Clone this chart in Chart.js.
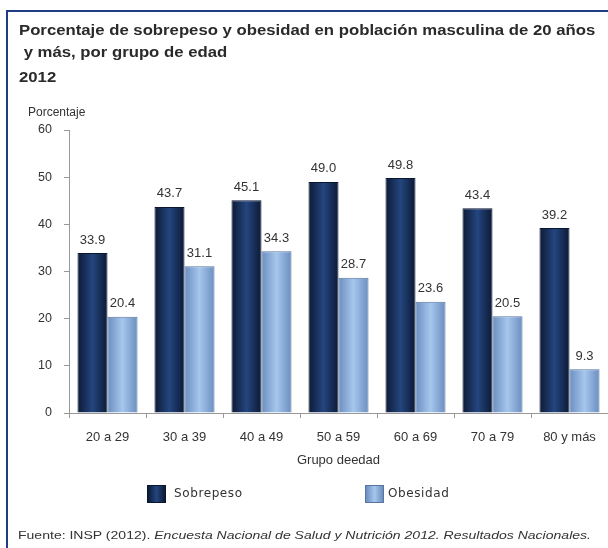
<!DOCTYPE html>
<html>
<head>
<meta charset="utf-8">
<script src="https://cdn.jsdelivr.net/npm/chart.js@4.4.1/dist/chart.umd.min.js"></script>
<style>
  html, body { margin: 0; padding: 0; background: #fff; }
  #wrap { position: relative; width: 608px; height: 548px; overflow: hidden; font-family: "Liberation Sans", Arial, sans-serif; color: #222; }
  #frame { position: absolute; left: 6px; top: 10px; width: 700px; height: 600px; border-left: 2px solid #1f3c85; border-top: 2px solid #1f3c85; }
  #chart { position: absolute; left: 0; top: 0; }
  .txt { position: absolute; white-space: nowrap; transform-origin: left center; }
  .title { font-weight: bold; font-size: 15px; color: #2a2a2a; transform: scaleX(1.115); }
  .legend { font-family: "DejaVu Sans", sans-serif; font-size: 12px; letter-spacing: 0.6px; color: #333; }
  .swatch { position: absolute; width: 17px; height: 16px; }
  #footer { font-size: 11.5px; color: #333; transform: scaleX(1.22); }
</style>
</head>
<body>
<div id="wrap">
  <canvas id="chart" width="608" height="548"></canvas>
  <div id="frame"></div>
  <div class="txt title" style="left:19px; top:21px;">Porcentaje de sobrepeso y obesidad en población masculina de 20 años</div>
  <div class="txt title" style="left:19px; top:43px;">&nbsp;y más, por grupo de edad</div>
  <div class="txt title" style="left:19px; top:68px;">2012</div>
  <div class="txt" style="left:28px; top:105px; font-size:12px; color:#333;">Porcentaje</div>
  <div class="swatch" style="left:147px; top:485px; background:linear-gradient(to right,#0c1a36,#24457e 50%,#0c1a36); border:1px solid #0a1630;"></div>
  <div class="txt legend" style="left:174px; top:486px;">Sobrepeso</div>
  <div class="swatch" style="left:365px; top:485px; background:linear-gradient(to right,#6a8ec0,#a6c6ec 50%,#6a8ec0); border:1px solid #56789f;"></div>
  <div class="txt legend" style="left:388px; top:486px;">Obesidad</div>
  <div id="footer" class="txt" style="left:18px; top:529px;">Fuente: INSP (2012). <i>Encuesta Nacional de Salud y Nutrición 2012. Resultados Nacionales.</i></div>
</div>
<script>
const categories = ['20 a 29', '30 a 39', '40 a 49', '50 a 59', '60 a 69', '70 a 79', '80 y más'];
const sobrepeso = [33.9, 43.7, 45.1, 49.0, 49.8, 43.4, 39.2];
const obesidad = [20.4, 31.1, 34.3, 28.7, 23.6, 20.5, 9.3];
const yMin = 0, yMax = 60, yStep = 10;

const catPct = 0.78;

// horizontal shading across each bar, like the original's bevelled bars
function barGradient(context, edge, mid) {
    const chart = context.chart;
    const xs = chart.scales.x;
    if (!xs || !chart.chartArea) return mid;
    const bw = xs.width / categories.length * catPct / 2;
    const c = xs.getPixelForValue(context.dataIndex) + (context.datasetIndex === 0 ? -bw / 2 : bw / 2);
    const g = chart.ctx.createLinearGradient(c - bw / 2, 0, c + bw / 2, 0);
    g.addColorStop(0, edge);
    g.addColorStop(0.5, mid);
    g.addColorStop(1, edge);
    return g;
}

const valueLabels = {
    id: 'valueLabels',
    afterDatasetsDraw(chart) {
        const ctx = chart.ctx;
        ctx.save();
        ctx.font = '13px "Liberation Sans", Arial, sans-serif';
        ctx.fillStyle = '#333';
        ctx.textAlign = 'center';
        ctx.textBaseline = 'middle';
        chart.data.datasets.forEach((ds, di) => {
            chart.getDatasetMeta(di).data.forEach((bar, i) => {
                ctx.fillText(ds.data[i].toFixed(1), bar.x, bar.y - 13);
            });
        });
        ctx.restore();
    }
};

Chart.defaults.font.family = '"Liberation Sans", Arial, sans-serif';
Chart.defaults.color = '#333';

new Chart(document.getElementById('chart'), {
    type: 'bar',
    data: {
        labels: categories,
        datasets: [
            {
                label: 'Sobrepeso',
                data: sobrepeso,
                backgroundColor: ctx => barGradient(ctx, '#0c1a36', '#24457e'),
                borderColor: '#0a1630',
                borderWidth: 1,
                categoryPercentage: catPct,
                barPercentage: 1
            },
            {
                label: 'Obesidad',
                data: obesidad,
                backgroundColor: ctx => barGradient(ctx, '#6a8ec0', '#a6c6ec'),
                borderColor: '#56789f',
                borderWidth: 1,
                categoryPercentage: catPct,
                barPercentage: 1
            }
        ]
    },
    options: {
        responsive: false,
        animation: false,
        layout: { padding: { top: 130, left: 0, right: 0, bottom: 80 } },
        plugins: {
            legend: { display: false },
            tooltip: { enabled: false }
        },
        scales: {
            x: {
                grid: { drawOnChartArea: false, tickLength: 5, color: '#999' },
                border: { color: '#999' },
                ticks: { font: { size: 13 }, padding: 12, color: '#333' },
                title: { display: true, text: 'Grupo deedad', font: { size: 13 }, color: '#333', padding: { top: 4, bottom: 0 } },
                afterFit: scale => { scale.height = 55; }
            },
            y: {
                min: yMin,
                max: yMax,
                ticks: { stepSize: yStep, font: { size: 12.5 }, padding: 12, color: '#333' },
                grid: { drawOnChartArea: false, tickLength: 5, color: '#999' },
                border: { color: '#999' },
                afterFit: scale => { scale.width = 69; }
            }
        }
    },
    plugins: [valueLabels]
});
</script>
</body>
</html>
